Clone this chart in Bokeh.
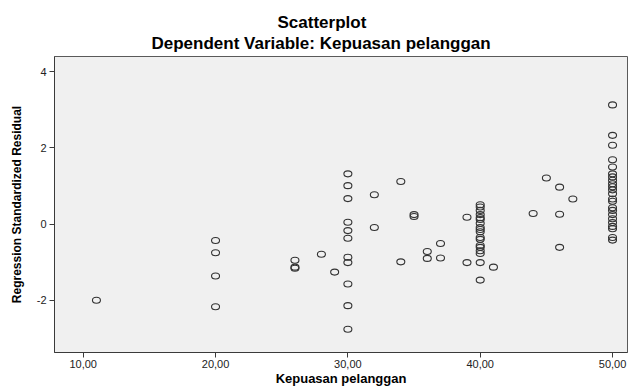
from bokeh.plotting import figure
from bokeh.models import FixedTicker, Title, ColumnDataSource
from bokeh.embed import file_html
from bokeh.resources import INLINE

# Kepuasan pelanggan (x) and Regression Standardized Residual (y)
kepuasan = [11,
            20, 20, 20, 20,
            26, 26, 26,
            28, 29,
            30, 30, 30, 30, 30, 30, 30, 30, 30, 30, 30,
            32, 32, 34, 34, 35, 35, 36, 36, 37, 37, 39, 39,
            40, 40, 40, 40, 40, 40, 40, 40, 40, 40, 40, 40, 40, 40, 40, 40, 40, 40,
            41, 44, 45, 46, 46, 46, 47,
            50, 50, 50, 50, 50, 50, 50, 50, 50, 50, 50, 50, 50, 50, 50, 50, 50, 50, 50, 50, 50, 50, 50]
residual = [-2.00,
            -0.43, -0.75, -1.36, -2.17,
            -0.95, -1.13, -1.16,
            -0.79, -1.26,
            1.32, 1.01, 0.67, 0.05, -0.17, -0.37, -0.87, -1.01, -1.57, -2.14, -2.76,
            0.77, -0.09, 1.12, -0.99, 0.25, 0.20, -0.72, -0.90, -0.51, -0.89, 0.18, -1.01,
            0.51, 0.45, 0.36, 0.25, 0.17, 0.12, 0.02, -0.09, -0.14, -0.20, -0.35, -0.40, -0.56, -0.61, -0.70, -0.77, -1.01, -1.47,
            -1.13, 0.28, 1.21, 0.97, 0.26, -0.61, 0.66,
            3.13, 2.33, 2.07, 1.69, 1.50, 1.32, 1.24, 1.15, 1.06, 0.98, 0.90, 0.80, 0.66, 0.60, 0.43, 0.36, 0.25, 0.14, 0.04, -0.06, -0.12, -0.35, -0.42]

x_ticks = [10, 20, 30, 40, 50]
x_tick_labels = ["10,00", "20,00", "30,00", "40,00", "50,00"]
y_ticks = [-2, 0, 2, 4]
y_tick_labels = ["-2", "0", "2", "4"]

title_main = "Scatterplot"
title_sub = "Dependent Variable: Kepuasan pelanggan"
x_label = "Kepuasan pelanggan"
y_label = "Regression Standardized Residual"

FONT = "Liberation Sans"

p = figure(width=629, height=388, output_backend="svg", toolbar_location=None,
           x_range=(7.83, 51.13), y_range=(-3.37, 4.4),
           min_border_left=54, min_border_right=2, min_border_top=56, min_border_bottom=34,
           background_fill_color="#f0f0f0", border_fill_color="white")

p.add_layout(Title(text=title_sub, align="left", text_font=FONT, text_font_size="17px",
                   text_font_style="bold", text_color="black", standoff=7, offset=97), "above")
p.add_layout(Title(text=title_main, align="left", text_font=FONT, text_font_size="17px",
                   text_font_style="bold", text_color="black", standoff=-7, offset=223), "above")

src = ColumnDataSource(data=dict(x=kepuasan, y=residual))
p.ellipse(x="x", y="y", width=8, height=6, width_units="screen", height_units="screen",
          fill_color=None, line_color="#333333", line_width=1.1, source=src)

p.xgrid.visible = False
p.ygrid.visible = False
p.outline_line_color = "#5a5a5a"
p.outline_line_width = 1

p.xaxis.ticker = FixedTicker(ticks=x_ticks)
p.xaxis.major_label_overrides = {t: l for t, l in zip(x_ticks, x_tick_labels)}
p.yaxis.ticker = FixedTicker(ticks=y_ticks)
p.yaxis.major_label_overrides = {t: l for t, l in zip(y_ticks, y_tick_labels)}

for ax in (p.xaxis[0], p.yaxis[0]):
    ax.axis_line_color = "#3a3a3a"
    ax.major_tick_line_color = "#3a3a3a"
    ax.major_tick_in = 0
    ax.major_tick_out = 5
    ax.minor_tick_line_color = None
    ax.major_label_text_font = FONT
    ax.major_label_text_font_size = "11px"
    ax.major_label_text_color = "#222222"
    ax.axis_label_text_font = FONT
    ax.axis_label_text_font_style = "bold"
    ax.axis_label_text_color = "black"

p.xaxis.axis_label = x_label
p.xaxis.axis_label_text_font_size = "13px"
p.xaxis.axis_label_standoff = 0
p.xaxis.major_label_standoff = 2
p.yaxis.axis_label = y_label
p.yaxis.axis_label_text_font_size = "12px"
p.yaxis.axis_label_standoff = 10
p.yaxis.major_label_standoff = 3

open("out.html", "w").write(file_html(p, INLINE))
